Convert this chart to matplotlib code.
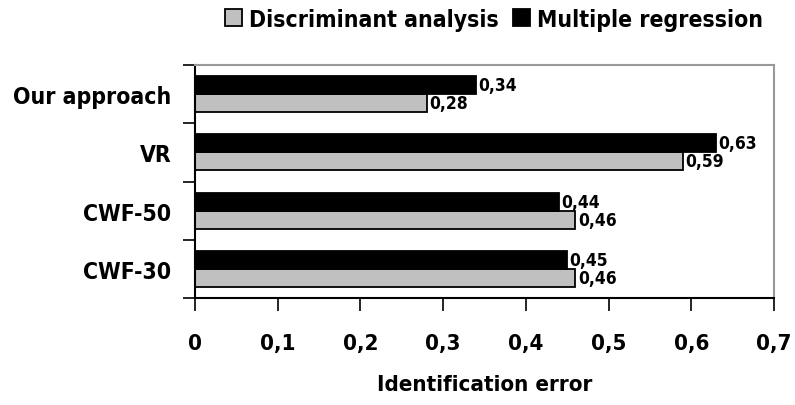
import numpy as np
import matplotlib.pyplot as plt

categories = ['Our approach', 'VR', 'CWF-50', 'CWF-30']
discriminant = [0.28, 0.59, 0.46, 0.46]
regression = [0.34, 0.63, 0.44, 0.45]
xticks = [0, 0.1, 0.2, 0.3, 0.4, 0.5, 0.6, 0.7]

plt.rcParams['font.family'] = 'DejaVu Sans'
plt.rcParams['font.stretch'] = 'condensed'
plt.rcParams['font.weight'] = 'bold'
plt.rcParams['axes.labelweight'] = 'bold'

fig = plt.figure(figsize=(7.95, 4.06), dpi=100)
ax = fig.add_axes([195 / 795, 1 - 299 / 406, 579 / 795, 233 / 406])

y = np.arange(len(categories))[::-1]
h = 0.31
ax.barh(y - h / 2, discriminant, height=h, color='#c0c0c0', edgecolor='black', linewidth=1.3,
        label='Discriminant analysis')
ax.barh(y + h / 2, regression, height=h, color='black', edgecolor='black', linewidth=1.3,
        label='Multiple regression')

fmt = lambda v: f'{v:g}'.replace('.', ',')
for yi, d, r in zip(y, discriminant, regression):
    ax.text(r + 0.003, yi + h / 2, fmt(r), fontsize=12.5, va='center', ha='left')
    ax.text(d + 0.003, yi - h / 2, fmt(d), fontsize=12.5, va='center', ha='left')

ax.set_xlim(0, 0.7)
ax.set_ylim(-0.5, len(categories) - 0.5)
ax.set_xticks(xticks)
ax.set_xticklabels([fmt(t) for t in xticks], fontsize=16)
ax.set_yticks(y)
ax.set_yticklabels(categories, fontsize=16.5)
ax.tick_params(axis='y', length=0, pad=17)
ax.set_yticks(np.arange(len(categories) + 1) - 0.5, minor=True)
ax.tick_params(axis='y', which='minor', length=9, width=1.2, direction='out')
ax.tick_params(axis='x', length=9, width=1.2, direction='out', pad=16)

for side in ['top', 'right']:
    ax.spines[side].set_color('#999999')
    ax.spines[side].set_linewidth(1.5)
for side in ['left', 'bottom']:
    ax.spines[side].set_linewidth(1.5)

ax.set_xlabel('Identification error', fontsize=16, labelpad=15)

fig.legend(loc='center', bbox_to_anchor=(494 / 795, 1 - 20 / 406), ncol=2, frameon=False,
           fontsize=16.5, handlelength=0.75, handleheight=0.75, handletextpad=0.3, columnspacing=0.6)

fig.savefig('out.png', dpi=100)
